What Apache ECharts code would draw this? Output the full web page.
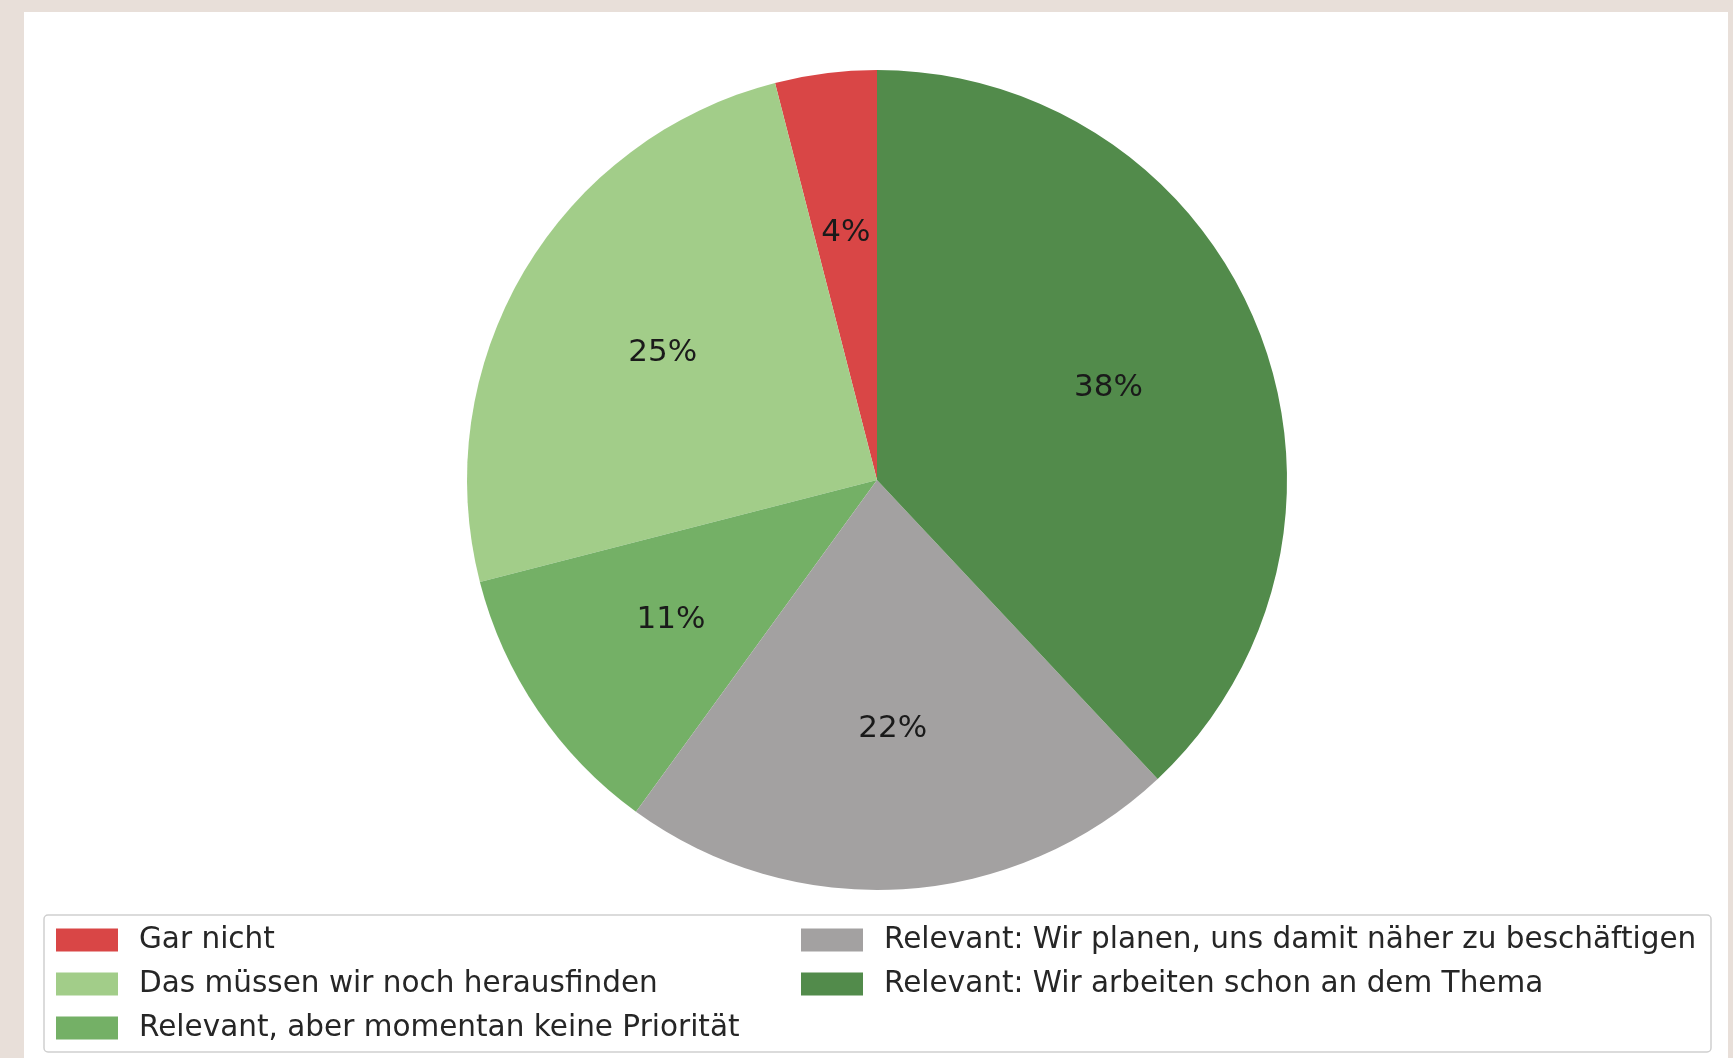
<!DOCTYPE html>
<html>
<head>
<meta charset="utf-8">
<script src="https://cdn.jsdelivr.net/npm/echarts@6/dist/echarts.min.js"></script>
<style>
  html, body { margin: 0; padding: 0; background: #e8dfd9; }
  #chart { width: 1733px; height: 1058px; }
</style>
</head>
<body>
<div id="chart"></div>
<script>
// Anteile in Prozent, Reihenfolge wie in der Legende (gegen den Uhrzeigersinn ab 12 Uhr)
const categories = [
  'Gar nicht',
  'Das müssen wir noch herausfinden',
  'Relevant, aber momentan keine Priorität',
  'Relevant: Wir planen, uns damit näher zu beschäftigen',
  'Relevant: Wir arbeiten schon an dem Thema'
];
const values = [4, 25, 11, 22, 38];
const colors = ['#d94646', '#a2cd89', '#74b066', '#a3a1a1', '#528b4b'];

const cx = 877, cy = 480, R = 410;

const chart = echarts.init(document.getElementById('chart'));

const pieData = categories.map((name, i) => ({
  name: name,
  value: values[i],
  itemStyle: { color: colors[i] }
}));

const legendText = { fontSize: 29.5, color: '#262626', padding: [0, 0, 0, 16], fontFamily: 'DejaVu Sans' };

const option = {
  backgroundColor: '#e8dfd9',
  animation: false,
  textStyle: { fontFamily: 'DejaVu Sans' },
  graphic: [
    {
      type: 'rect', z: -10,
      shape: { x: 24, y: 12, width: 1704, height: 1046 },
      style: { fill: '#ffffff' }
    },
    {
      type: 'rect', z: -5,
      shape: { x: 44, y: 915, width: 1667, height: 137, r: 4 },
      style: { fill: '#ffffff', stroke: '#cfcfcf', lineWidth: 1.5 }
    }
  ],
  legend: [
    {
      data: categories.slice(0, 3),
      orient: 'vertical',
      left: 51, top: 920,
      icon: 'rect',
      itemWidth: 62, itemHeight: 23,
      itemGap: 14,
      selectedMode: false,
      textStyle: legendText
    },
    {
      data: categories.slice(3),
      orient: 'vertical',
      left: 796, top: 920,
      icon: 'rect',
      itemWidth: 62, itemHeight: 23,
      itemGap: 14,
      selectedMode: false,
      textStyle: legendText
    }
  ],
  series: [
    {
      type: 'pie',
      center: [cx, cy],
      radius: [0, R],
      startAngle: 90,
      clockwise: false,
      label: { show: false },
      labelLine: { show: false },
      emphasis: { disabled: true },
      data: pieData
    },
    {
      // unsichtbare Hilfsreihe, damit die Prozentwerte bei 0.6 R sitzen
      type: 'pie',
      center: [cx, cy],
      radius: [0, R * 1.2],
      startAngle: 90,
      clockwise: false,
      silent: true,
      z: 5,
      itemStyle: { color: 'transparent' },
      label: {
        show: true,
        position: 'inside',
        formatter: '{c}%',
        fontSize: 31,
        color: '#1a1a1a',
        fontFamily: 'DejaVu Sans'
      },
      labelLine: { show: false },
      emphasis: { disabled: true },
      legendHoverLink: false,
      data: categories.map((name, i) => ({ name: name + ' ', value: values[i] }))
    }
  ]
};

chart.setOption(option);
</script>
</body>
</html>
